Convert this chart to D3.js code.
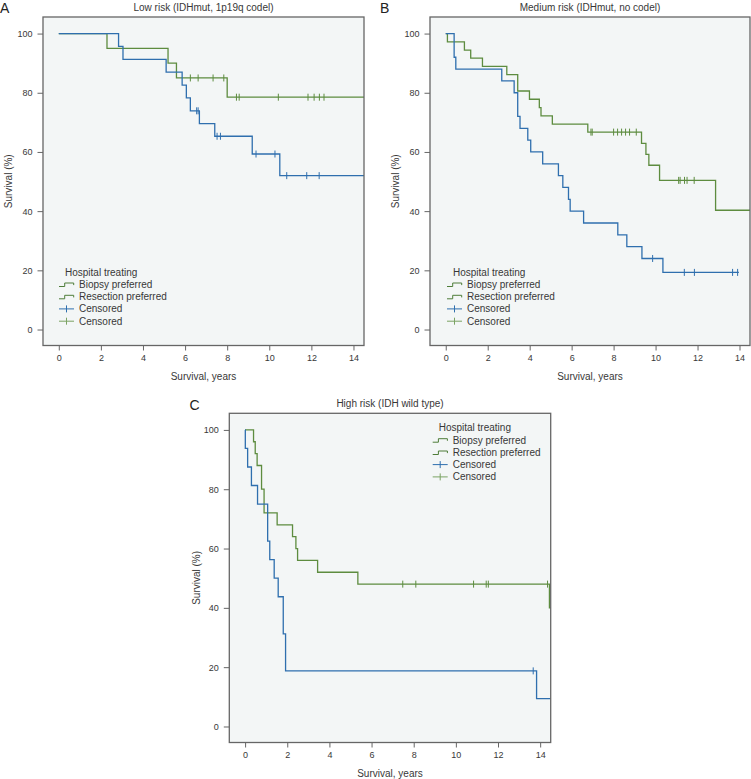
<!DOCTYPE html>
<html>
<head>
<meta charset="utf-8">
<script src="https://cdn.jsdelivr.net/npm/d3@7"></script>
<style>
  html, body { margin: 0; padding: 0; background: #ffffff; }
  svg { display: block; font-family: "Liberation Sans", Arial, Helvetica, sans-serif; }
</style>
</head>
<body>
<svg id="chart" width="751" height="779"></svg>
<script>
// ---------------- DATA ----------------
const yTicks = [0, 20, 40, 60, 80, 100];
const xTicks = [0, 2, 4, 6, 8, 10, 12, 14];
const legendTitle = "Hospital treating";
const legendLabels = ["Biopsy preferred", "Resection preferred", "Censored", "Censored"];
const xLabel = "Survival, years";
const yLabel = "Survival (%)";

// Panel A: Low risk
const lowBlueT = [0, 2.84, 3.05, 5.10, 5.86, 6.06, 6.25, 6.68, 7.41, 9.19, 10.50];
const lowBlueS = [100, 95.65, 91.3, 86.96, 82.6, 78.26, 73.9, 69.6, 65.3, 59.3, 52.0];
const lowBlueCens = [6.55, 6.62, 7.52, 7.68, 9.37, 10.27, 10.83, 11.78, 12.37];
const lowBlueEnd = 14.5;
const lowGreenT = [0, 2.29, 5.19, 5.59, 8.00];
const lowGreenS = [100, 95, 90, 85, 78.5];
const lowGreenCens = [6.25, 6.62, 7.33, 7.84, 8.44, 8.57, 10.43, 11.84, 12.13, 12.38, 12.60];
const lowGreenEnd = 14.5;

// Panel B: Medium risk
const medBlueT = [0, 0.40, 0.48, 2.67, 3.26, 3.43, 3.54, 3.91, 4.05, 4.62, 5.37, 5.58, 5.85, 5.93, 6.57, 8.20, 8.63, 9.35, 10.35];
const medBlueS = [100, 92, 88, 84, 80, 72, 68, 64, 60, 56, 52, 48, 44, 40, 36, 32, 28, 24, 19.3];
const medBlueCens = [9.86, 11.37, 11.85, 13.67, 13.91];
const medBlueEnd = 13.97;
const medGreenT = [0, 0.08, 0.89, 1.19, 1.75, 2.91, 3.43, 3.99, 4.46, 4.54, 5.08, 6.77, 9.33, 9.54, 9.68, 10.19, 12.86];
const medGreenS = [100, 97.2, 94.4, 91.7, 88.9, 86.1, 80.6, 77.8, 75.0, 72.2, 69.4, 66.7, 62.9, 59.2, 55.5, 50.4, 40.3];
const medGreenCens = [6.92, 6.98, 8.00, 8.19, 8.38, 8.57, 8.76, 9.08, 11.10, 11.17, 11.38, 11.50, 11.84];
const medGreenEnd = 14.5;

// Panel C: High risk
const highBlueT = [0, 0.01, 0.12, 0.30, 0.59, 1.07, 1.17, 1.38, 1.57, 1.81, 1.92, 13.83];
const highBlueS = [100, 93.75, 87.5, 81.25, 75, 62.5, 56.25, 50, 43.75, 31.25, 18.75, 9.375];
const highBlueCens = [13.67];
const highBlueEnd = 14.5;
const highGreenT = [0, 0.40, 0.48, 0.57, 0.78, 0.90, 1.52, 2.25, 2.41, 2.49, 3.44, 5.35, 14.44];
const highGreenS = [100, 96, 92, 88, 80, 72, 68, 64, 60, 56, 52, 48, 40];
const highGreenCens = [7.48, 8.10, 10.84, 11.44, 11.54, 14.35];
const highGreenEnd = 14.5;

// ---------------- STYLE / LAYOUT ----------------
const BLUE = "#2f6fae";
const GREEN = "#5d8c3f";
const TEXT = "#383838";
const FRAME = "#666666";
const PLOTBG = "#f3f6f6";

const panels = [
  { letter: "A", title: "Low risk (IDHmut, 1p19q codel)",
    L: 43, R: 364, T: 17, B: 345.5, letterX: 0, letterY: 13,
    legX: 22, legY: 255, ylabOff: 35,
    blue: [lowBlueT, lowBlueS, lowBlueCens, lowBlueEnd],
    green: [lowGreenT, lowGreenS, lowGreenCens, lowGreenEnd] },
  { letter: "B", title: "Medium risk (IDHmut, no codel)",
    L: 430, R: 750, T: 17, B: 345.5, letterX: 380, letterY: 13,
    legX: 23, legY: 255, ylabOff: 35,
    blue: [medBlueT, medBlueS, medBlueCens, medBlueEnd],
    green: [medGreenT, medGreenS, medGreenCens, medGreenEnd] },
  { letter: "C", title: "High risk (IDH wild type)",
    L: 229.3, R: 550.7, T: 413.3, B: 742.5, letterX: 189.5, letterY: 410,
    legX: 209.4, legY: 14.4, ylabOff: 33,
    blue: [highBlueT, highBlueS, highBlueCens, highBlueEnd],
    green: [highGreenT, highGreenS, highGreenCens, highGreenEnd] }
];

const svg = d3.select("#chart");

function survAt(T, S, t) {
  let s = S[0];
  for (let i = 0; i < T.length; i++) { if (T[i] <= t) s = S[i]; }
  return s;
}

panels.forEach(p => {
  const x = d3.scaleLinear().domain([-0.75, 14.5]).range([p.L, p.R]);
  const y = d3.scaleLinear().domain([-5.4, 105.6]).range([p.B, p.T]);
  const g = svg.append("g");

  g.append("text").attr("x", p.letterX).attr("y", p.letterY)
    .attr("font-size", 14).attr("fill", "#222").text(p.letter);
  g.append("text").attr("x", (p.L + p.R) / 2).attr("y", p.T - 6)
    .attr("text-anchor", "middle").attr("font-size", 10).attr("fill", TEXT).text(p.title);

  g.append("rect").attr("x", p.L).attr("y", p.T).attr("width", p.R - p.L).attr("height", p.B - p.T)
    .attr("fill", PLOTBG).attr("stroke", "none");

  const ya = g.append("g").attr("transform", `translate(${p.L},0)`)
    .call(d3.axisLeft(y).tickValues(yTicks).tickSize(5.5).tickPadding(5));
  ya.select(".domain").remove();
  ya.selectAll("line").attr("stroke", FRAME);
  ya.selectAll("text").attr("font-size", 9).attr("fill", TEXT).attr("font-family", null);

  const xa = g.append("g").attr("transform", `translate(0,${p.B})`)
    .call(d3.axisBottom(x).tickValues(xTicks).tickSize(5).tickPadding(4.5));
  xa.select(".domain").remove();
  xa.selectAll("line").attr("stroke", FRAME);
  xa.selectAll("text").attr("font-size", 9).attr("fill", TEXT).attr("font-family", null);

  g.append("text").attr("x", (p.L + p.R) / 2).attr("y", p.B + 34)
    .attr("text-anchor", "middle").attr("font-size", 10).attr("fill", TEXT).text(xLabel);
  g.append("text")
    .attr("transform", `translate(${p.L - p.ylabOff + 3.5},${(p.T + p.B) / 2}) rotate(-90)`)
    .attr("text-anchor", "middle").attr("font-size", 10).attr("fill", TEXT).text(yLabel);

  const line = d3.line().x(d => x(d[0])).y(d => y(d[1])).curve(d3.curveStepAfter);
  [[p.green, GREEN], [p.blue, BLUE]].forEach(([ser, col]) => {
    const [T, S, C, end] = ser;
    const pts = T.map((t, i) => [t, S[i]]);
    pts.push([end, S[S.length - 1]]);
    g.append("path").datum(pts).attr("d", line)
      .attr("fill", "none").attr("stroke", col).attr("stroke-width", 1.3);
    g.selectAll(null).data(C).enter().append("line")
      .attr("x1", d => x(d)).attr("x2", d => x(d))
      .attr("y1", d => y(survAt(T, S, d)) - 3.5)
      .attr("y2", d => y(survAt(T, S, d)) + 3.5)
      .attr("stroke", col).attr("stroke-width", 1);
  });

  g.append("rect").attr("x", p.L).attr("y", p.T).attr("width", p.R - p.L).attr("height", p.B - p.T)
    .attr("fill", "none").attr("stroke", FRAME).attr("stroke-width", 1.3);

  const lx = p.L + p.legX, ly = p.T + p.legY;
  g.append("text").attr("x", lx).attr("y", ly + 3.5).attr("font-size", 10).attr("fill", TEXT).text(legendTitle);
  legendLabels.forEach((lab, i) => {
    const cy = ly + 12.3 * (i + 1);
    const ix = lx - 6;
    if (i < 2) {
      g.append("path")
        .attr("d", `M${ix},${cy + 2.2}H${ix + 5.7}V${cy - 1.3}H${ix + 14.7}V${cy + 0.8}`)
        .attr("fill", "none").attr("stroke", "#4e7d39").attr("stroke-width", 1);
    } else {
      const col = i === 2 ? BLUE : "#7aa363";
      g.append("line").attr("x1", ix).attr("x2", ix + 15).attr("y1", cy).attr("y2", cy)
        .attr("stroke", col).attr("stroke-width", 1);
      g.append("line").attr("x1", ix + 7.5).attr("x2", ix + 7.5).attr("y1", cy - 3.5).attr("y2", cy + 3.5)
        .attr("stroke", col).attr("stroke-width", 1);
    }
    g.append("text").attr("x", lx + 14).attr("y", cy + 3.5).attr("font-size", 10).attr("fill", TEXT).text(lab);
  });
});
</script>
</body>
</html>
